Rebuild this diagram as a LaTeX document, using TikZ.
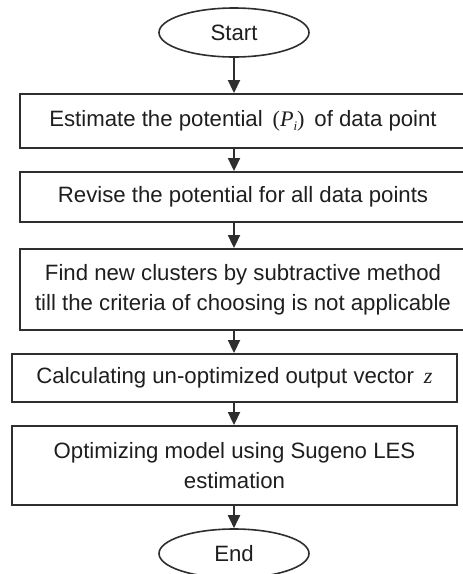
\documentclass[tikz,border=0pt]{standalone}
\usepackage{fontspec}
\setmainfont{Liberation Sans}
\newfontfamily\tms{Liberation Serif}
\usetikzlibrary{shapes.geometric,arrows.meta}
\definecolor{ink}{HTML}{1E1E1E}
\definecolor{edge}{HTML}{2E2E2E}
\begin{document}
\begin{tikzpicture}[x=1pt,y=-1pt,
  every node/.style={font=\fontsize{22.2}{30}\selectfont, text=ink},
  box/.style={draw=edge, line width=1.9pt, rectangle, inner sep=0pt, align=center},
  wide/.style={box, minimum width=446pt},
  narrow/.style={box, minimum width=445pt},
  term/.style={draw=edge, line width=1.6pt, ellipse, minimum width=150pt, minimum height=49pt, inner sep=0pt},
  flow/.style={draw=edge, line width=1.9pt, -{Triangle[length=13pt,width=12pt]}}]
\useasboundingbox (0,0) rectangle (463,574);
\clip (0,0) rectangle (463,574);
\node[term] (start) at (234,32.5) {Start};
\node[wide, minimum height=54pt] (b1) at (243,121)
  {Estimate the potential \,{\tms(\textit{P}\raisebox{-0.35ex}{\fontsize{13}{13}\selectfont\textit{i}})}\, of data point};
\node[wide, minimum height=50pt] (b2) at (243,197) {Revise the potential for all data points};
\node[wide, minimum height=81pt] (b3) at (243,289.5)
  {Find new clusters by subtractive method\\till the criteria of choosing is not applicable};
\node[narrow, minimum height=48pt] (b4) at (234.5,378)
  {Calculating un-optimized output vector \,{\tms\textit{z}}};
\node[narrow, minimum height=79pt] (b5) at (234.5,465.5)
  {Optimizing model using Sugeno LES\\estimation};
\node[term] (end) at (234,553.5) {End};
\draw[flow] (start.south) -- (start.south |- b1.north);
\draw[flow] (b1.south -| start.south) -- (start.south |- b2.north);
\draw[flow] (b2.south -| start.south) -- (start.south |- b3.north);
\draw[flow] (b3.south -| start.south) -- (start.south |- b4.north);
\draw[flow] (b4.south -| start.south) -- (start.south |- b5.north);
\draw[flow] (b5.south -| start.south) -- (end.north);
\end{tikzpicture}
\end{document}
